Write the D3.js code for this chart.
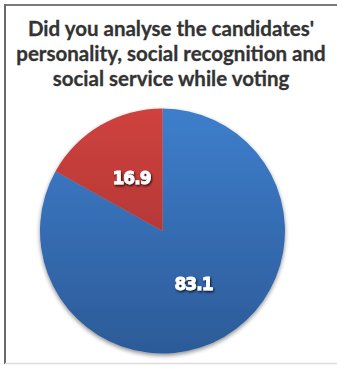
<!DOCTYPE html>
<html>
<head>
<meta charset="utf-8">
<script src="https://cdn.jsdelivr.net/npm/d3@7"></script>
<style>
  html, body { margin: 0; padding: 0; background: #fff; }
  svg { display: block; }
</style>
</head>
<body>
<svg id="chart" width="337" height="365"></svg>
<script>
// Survey answers (percent)
const categories = ["Yes", "No"];
const values = [83.1, 16.9];
const labels = ["83.1", "16.9"];
const titleLines = [
  "Did you analyse the candidates'",
  "personality, social recognition and",
  "social service while voting"
];

const W = 337, H = 365;
const cx = 162.5, cy = 231, R = 122.5;

const svg = d3.select("#chart");
const defs = svg.append("defs");

// Vertical shading for each slice colour (in the pie group's coordinates)
const grads = [
  { id: "gBlue", top: "#3E7ECC", bottom: "#2C5B98" },
  { id: "gRed", top: "#CF423E", bottom: "#9E2E2E" }
];
grads.forEach(g => {
  const lg = defs.append("linearGradient")
    .attr("id", g.id)
    .attr("gradientUnits", "userSpaceOnUse")
    .attr("x1", 0).attr("x2", 0)
    .attr("y1", -R).attr("y2", R);
  lg.append("stop").attr("offset", "0%").attr("stop-color", g.top);
  lg.append("stop").attr("offset", "100%").attr("stop-color", g.bottom);
});

const shadow = defs.append("filter").attr("id", "pieShadow")
  .attr("x", "-20%").attr("y", "-20%").attr("width", "140%").attr("height", "140%");
shadow.append("feDropShadow")
  .attr("dx", 0).attr("dy", 2).attr("stdDeviation", 2.2)
  .attr("flood-color", "#000").attr("flood-opacity", 0.45);

const textShadow = defs.append("filter").attr("id", "txtShadow")
  .attr("x", "-20%").attr("y", "-30%").attr("width", "150%").attr("height", "170%");
textShadow.append("feDropShadow")
  .attr("dx", 1).attr("dy", 1.5).attr("stdDeviation", 0.8)
  .attr("flood-color", "#000").attr("flood-opacity", 0.8);

// Frame
svg.append("rect").attr("x", 0).attr("y", 0).attr("width", W).attr("height", H).attr("fill", "#fff");
svg.append("line").attr("x1", 4).attr("x2", W).attr("y1", 5).attr("y2", 5)
  .attr("stroke", "#7a7a7a").attr("stroke-width", 2);
svg.append("line").attr("x1", 5).attr("x2", 5).attr("y1", 4).attr("y2", 364)
  .attr("stroke", "#6a6a6a").attr("stroke-width", 2);
svg.append("line").attr("x1", 5).attr("x2", W).attr("y1", 363.5).attr("y2", 363.5)
  .attr("stroke", "#dcdcdc").attr("stroke-width", 1.5);

// Title
const title = svg.append("text")
  .attr("text-anchor", "middle")
  .attr("font-family", "Lato, 'Open Sans', sans-serif")
  .attr("font-weight", "bold")
  .attr("font-size", 20.5)
  .attr("fill", "#333")
  .attr("stroke", "#333")
  .attr("stroke-width", 0.3);
titleLines.forEach((t, i) => {
  title.append("tspan").attr("x", 171).attr("y", 36 + i * 25).text(t);
});

// Pie
const pie = d3.pie().sort(null).value(d => d)(values);
const arc = d3.arc().innerRadius(0).outerRadius(R);
const labelArc = d3.arc().innerRadius(R * 0.5).outerRadius(R * 0.5);

const g = svg.append("g").attr("transform", `translate(${cx},${cy})`);
g.append("g").attr("filter", "url(#pieShadow)")
  .selectAll("path")
  .data(pie)
  .join("path")
  .attr("d", arc)
  .attr("fill", (d, i) => `url(#${grads[i].id})`);

g.selectAll("text.val")
  .data(pie)
  .join("text")
  .attr("class", "val")
  .attr("transform", d => `translate(${labelArc.centroid(d)})`)
  .attr("text-anchor", "middle")
  .attr("dy", "0.36em")
  .attr("font-family", "'DejaVu Sans', sans-serif")
  .attr("font-weight", "bold")
  .attr("font-size", 17)
  .attr("letter-spacing", -1)
  .attr("fill", "#fff")
  .attr("stroke", "#fff")
  .attr("stroke-width", 0.8)
  .attr("filter", "url(#txtShadow)")
  .text((d, i) => labels[i]);
</script>
</body>
</html>
